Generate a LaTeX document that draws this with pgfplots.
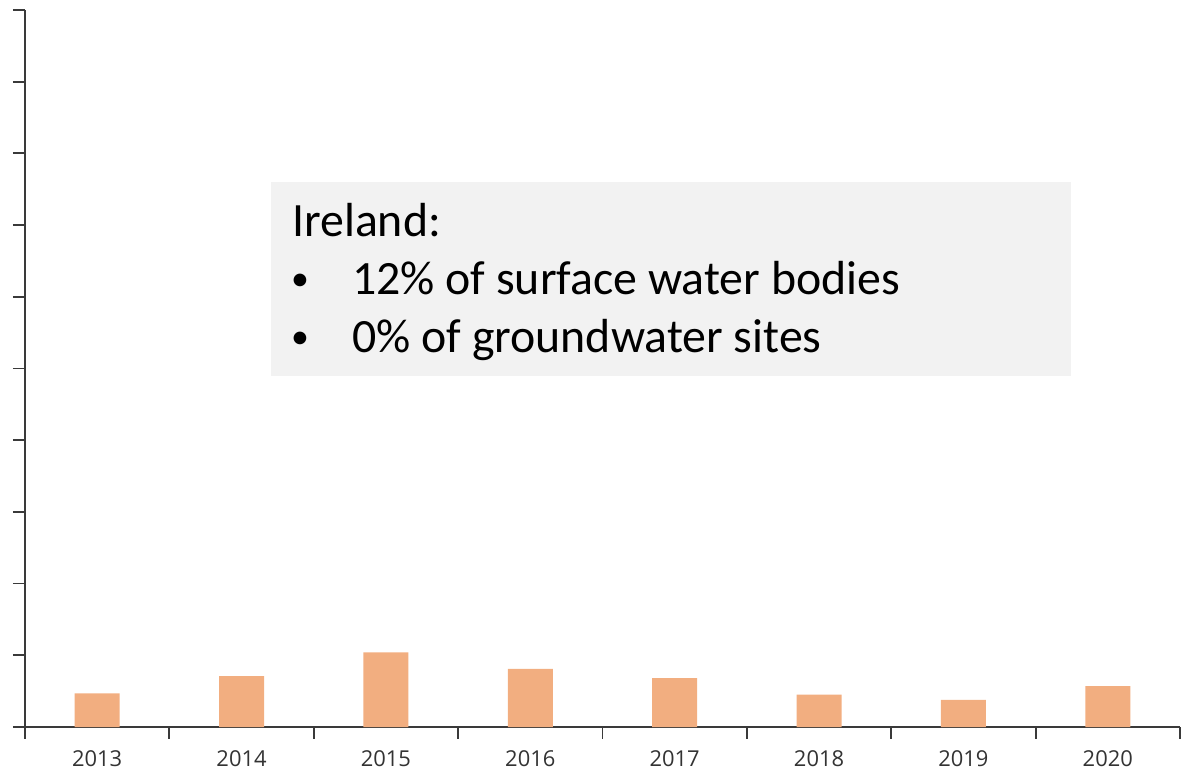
\documentclass[border=0pt]{standalone}
\usepackage{pgfplots}
\pgfplotsset{compat=1.18}
\usepackage{fontspec}
\setmainfont{Carlito}
\newfontfamily\labelfont{Open Sans}
\definecolor{barc}{HTML}{F2AE80}
\definecolor{axc}{HTML}{3A3A3A}
\definecolor{boxc}{HTML}{F2F2F2}
\definecolor{labc}{HTML}{333333}
\begin{document}
\begin{tikzpicture}[x=1bp,y=1bp]
\useasboundingbox (-25bp,-47bp) rectangle (1176bp,727bp);
\begin{axis}[
  at={(0,0)}, anchor=south west,
  scale only axis, width=1155bp, height=717bp,
  xmin=-0.5, xmax=7.5, ymin=0, ymax=100,
  axis x line*=bottom, axis y line*=left,
  axis line style={axc, line width=1.8bp},
  xtick={0,...,7},
  xticklabels={2013,2014,2015,2016,2017,2018,2019,2020},
  minor xtick={-0.5,0.5,...,7.5},
  ytick={0,10,...,100}, yticklabels={},
  tick align=outside,
  major tick length=12bp,
  x tick style={draw=none},
  minor x tick style={axc, line width=1.8bp, draw=axc},
  minor tick length=12bp,
  y tick style={axc, line width=1.8bp},
  xticklabel style={font=\labelfont\fontsize{22}{22}\selectfont, text=labc, yshift=-8bp},
  ybar, bar width=45bp,
  clip=false,
]
\addplot[fill=barc, draw=none] coordinates {
 (0,4.7) (1,7.1) (2,10.4) (3,8.1) (4,6.8) (5,4.5) (6,3.8) (7,5.7)};
\end{axis}
\fill[boxc] (246,351) rectangle (1046,545);
\node[anchor=base west, inner sep=0pt, font=\fontsize{48}{48}\selectfont] at (267,490) {Ireland:};
\node[anchor=base west, inner sep=0pt, font=\fontsize{36}{36}\selectfont] at (266,436) {\textbullet};
\node[anchor=base west, inner sep=0pt, font=\fontsize{36}{36}\selectfont] at (266,379) {\textbullet};
\node[anchor=base west, inner sep=0pt, font=\fontsize{48}{48}\selectfont] at (327,432) {12\% of surface water bodies};
\node[anchor=base west, inner sep=0pt, font=\fontsize{48}{48}\selectfont] at (327,375) {0\% of groundwater sites};
\end{tikzpicture}
\end{document}
